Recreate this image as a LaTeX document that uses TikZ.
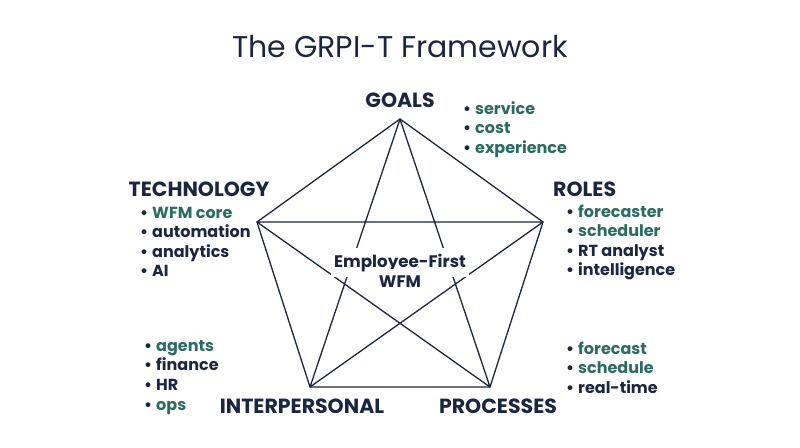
\documentclass[tikz,border=0pt]{standalone}
\usepackage{fontspec}
\setmainfont{Poppins}
\definecolor{navy}{HTML}{1B2640}
\definecolor{teal}{HTML}{2C6B63}
\newcommand{\bul}{\llap{\textcolor{navy}{•}\hspace{4pt}}}
\begin{document}
\begin{tikzpicture}[x=1pt,y=-1pt,
  edge/.style={draw=navy,line width=1.3pt},
  head/.style={font=\bfseries\fontsize{20.5}{24}\selectfont,text=navy,inner sep=0pt},
  item/.style={font=\bfseries\fontsize{16}{19}\selectfont,inner sep=0pt,anchor=base west},
  ctext/.style={font=\bfseries\fontsize{16.7}{20}\selectfont,text=navy,fill=white,inner xsep=3pt,inner ysep=6pt,anchor=base}]
\useasboundingbox (0,0) rectangle (800,447);
\fill[white] (0,0) rectangle (800,447);
\node[font=\fontsize{30}{34}\selectfont,text=navy,inner sep=0pt,anchor=base] (title) at (400,57) {The GRPI-T Framework};
% vertices
\coordinate (T) at (400,119);
\coordinate (L) at (257,222);
\coordinate (R) at (543,222);
\coordinate (BL) at (310,387);
\coordinate (BR) at (490,387);
\draw[edge,line join=miter] (T) -- (L) -- (BL) -- (BR) -- (R) -- cycle;
\draw[edge] (T) -- (BL) (T) -- (BR) (L) -- (R) (L) -- (BR) (R) -- (BL);
% centre
\node[ctext] (c1) at (400,267) {Employee-First};
\node[ctext] (c2) at (400,287) {WFM};
% headings
\node[head,anchor=base] (goals) at (400,107) {GOALS};
\node[head,anchor=base] (tech) at (199,196) {TECHNOLOGY};
\node[head,anchor=base west] (roles) at (553,196) {ROLES};
\node[head,anchor=base] (inter) at (302,413) {INTERPERSONAL};
\node[head,anchor=base] (proc) at (498,413) {PROCESSES};
% lists
\foreach \t/\c [count=\i] in {service/teal,cost/teal,experience/teal}
  \node[item,text=\c] (g\i) at (475,{114+19.5*(\i-1)}) {\bul\t};
\foreach \t/\c [count=\i] in {WFM core/teal,automation/navy,analytics/navy,AI/navy}
  \node[item,text=\c] (t\i) at (152,{218+19.5*(\i-1)}) {\bul\t};
\foreach \t/\c [count=\i] in {forecaster/teal,scheduler/teal,RT analyst/navy,intelligence/navy}
  \node[item,text=\c] (r\i) at (578,{217+19.5*(\i-1)}) {\bul\t};
\foreach \t/\c [count=\i] in {agents/teal,finance/navy,HR/navy,ops/teal}
  \node[item,text=\c] (i\i) at (156,{351+19.7*(\i-1)}) {\bul\t};
\foreach \t/\c [count=\i] in {forecast/teal,schedule/teal,real-time/navy}
  \node[item,text=\c] (p\i) at (578,{354+19.5*(\i-1)}) {\bul\t};
\end{tikzpicture}
\end{document}
